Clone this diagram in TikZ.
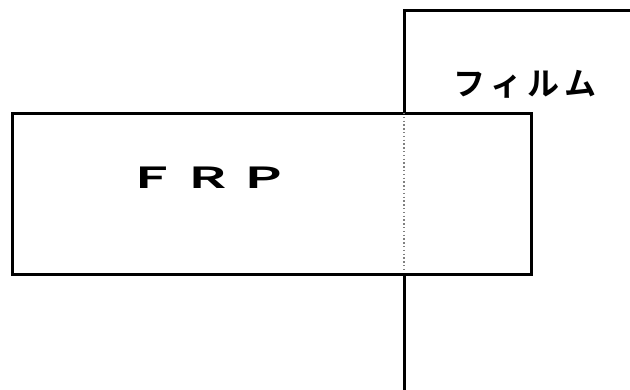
\documentclass[tikz,border=0pt]{standalone}
\usepackage{fontspec}
\newfontfamily\cjk{Noto Sans CJK JP}
\newfontfamily\cjkb{Noto Sans CJK JP Bold}
\tikzset{
  thick line/.style={line width=3pt},
  lbl/.style={inner sep=0pt},
}
\begin{document}
\begin{tikzpicture}[x=1pt,y=-1pt]
\useasboundingbox (0,0) rectangle (630,389);
\coordinate (ftop) at (404,10);
\coordinate (fright) at (632,10);
\coordinate (fbot) at (404,391);
\draw[thick line] (fright) -- (ftop) -- (fbot);
\node[draw, thick line, minimum width=519pt, minimum height=161pt, inner sep=0pt, anchor=north west, fill=white] (frp) at (11,111.5) {};
\coordinate (dtop) at (404,113);
\coordinate (dbot) at (404,271);
\draw[gray, line width=1.4pt, dash pattern=on 1.4pt off 2.4pt] (dtop) -- (dbot);
\node[lbl, xscale=1.75, font=\cjkb\fontsize{29}{29}\selectfont] (frptext) at (208,178) {Ｆ\hspace{3pt}Ｒ\hspace{3pt}Ｐ};
\node[lbl, font=\cjkb\fontsize{32}{32}\selectfont] (film) at (525,84) {フ\hspace{4.7pt}ィ\hspace{4.7pt}ル\hspace{4.7pt}ム};
\end{tikzpicture}
\end{document}
